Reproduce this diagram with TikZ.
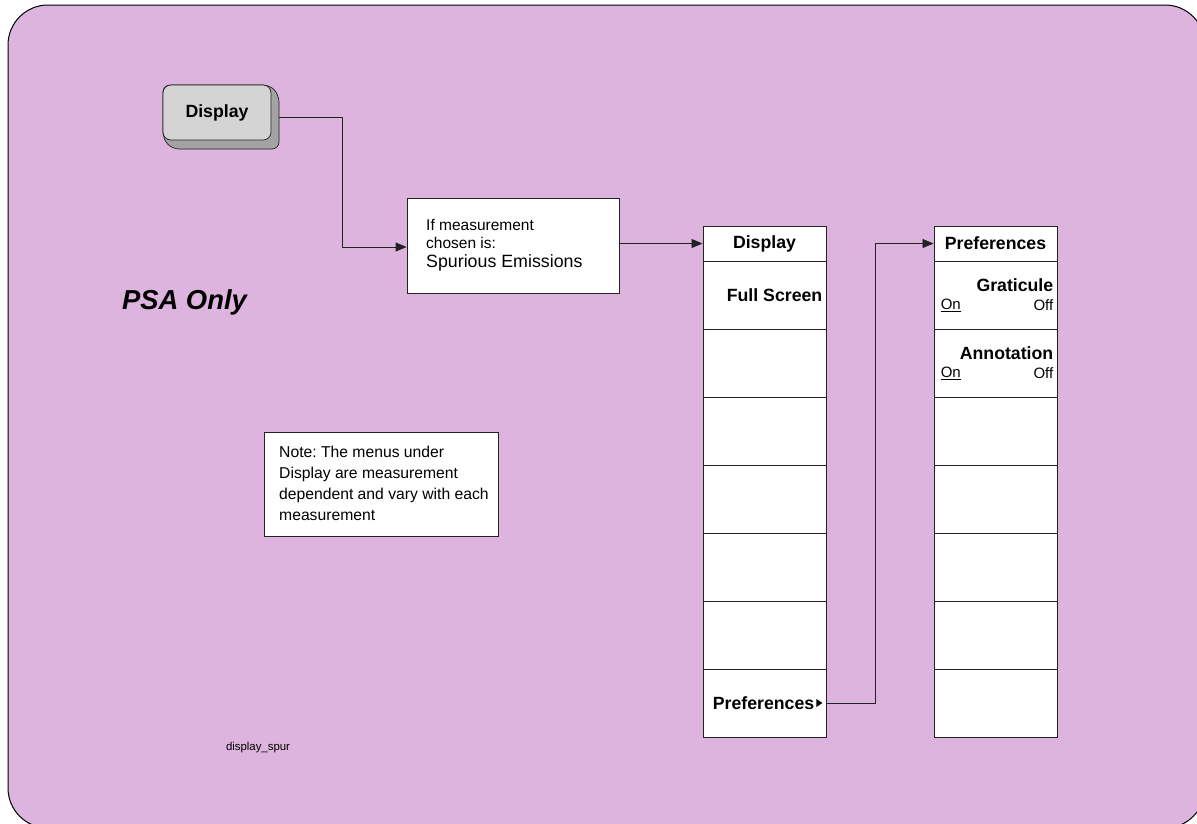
\documentclass[tikz,border=0pt]{standalone}
\usepackage{fontspec}
\setmainfont{Liberation Sans}
\usetikzlibrary{arrows.meta}
\definecolor{bgpink}{HTML}{DDB4DD}
\definecolor{keyface}{HTML}{D4D4D4}
\definecolor{keyside}{HTML}{A3A3A3}
\definecolor{ink}{HTML}{222222}
\frenchspacing

\begin{document}
\begin{tikzpicture}[x=1pt, y=-1pt,
  every node/.style={font=\fontsize{15.5}{18}\selectfont, inner sep=0pt},
  menubox/.style={draw=ink, fill=white, line width=0.9pt, minimum width=123pt, minimum height=68pt},
  titlebox/.style={menubox, minimum height=35pt, font=\bfseries\fontsize{17.7}{20}\selectfont},
  keylabel/.style={font=\bfseries\fontsize{17.7}{20}\selectfont},
  onoff/.style={font=\fontsize{15}{18}\selectfont},
  wire/.style={ink, line width=0.8pt},
  tip/.style={-{Triangle[length=11pt,width=9pt]}}]
  \useasboundingbox (0,0) rectangle (1197,823);
  \clip (0,0) rectangle (1197,823);
  \draw[fill=bgpink, line width=1pt, rounded corners=40] (8,5) rectangle (1205,828);

  % hard key with its 3D side
  \filldraw[fill=keyside, draw=ink, line width=0.7pt, rounded corners=7]
    (163,85) -- (270,85) -- (279,95) -- (279,149) -- (172,149) -- (163,139) -- cycle;
  \node[draw=ink, fill=keyface, line width=0.7pt, rounded corners=8, minimum width=108pt,
    minimum height=55pt, keylabel] (key) at (217,112.5) {Display};
  \coordinate (keyout) at (279,117);
  \coordinate (elbow) at (342,247);

  % condition box
  \node[draw=ink, fill=white, line width=0.8pt, minimum width=212pt, minimum height=95pt]
    (ifbox) at (513,245.5) {};
  \node[anchor=west] (ifa) at (426,225) {If measurement};
  \node[anchor=west] (ifb) at (426,243) {chosen is:};
  \node[anchor=west, font=\fontsize{17.8}{20}\selectfont] (ifc) at (426,263) {Spurious Emissions};

  \node[font=\bfseries\itshape\fontsize{27.4}{30}\selectfont] (psa) at (184.5,302) {PSA Only};

  % note
  \node[draw=ink, fill=white, line width=0.8pt, minimum width=234pt, minimum height=104pt]
    (note) at (381,484.5) {};
  \node[anchor=north west, align=left, font=\fontsize{15.7}{21}\selectfont] (notetxt) at (279,446)
    {Note: The menus under\\Display are measurement\\dependent and vary with each\\measurement};

  \node[font=\fontsize{11.4}{13}\selectfont] (fname) at (258,748) {display\_spur};

  % Display menu
  \node[titlebox] (dtitle) at (764.5,243.5) {Display};
  \foreach \i in {0,...,6}
    \node[menubox] (d\i) at (764.5,295+68*\i) {};
  \node[keylabel, anchor=east] at ([xshift=-4pt]d0.east) {Full Screen};
  \node[keylabel, anchor=east] (dpref) at ([xshift=-12pt]d6.east) {Preferences};
  \fill[black] ([xshift=2pt,yshift=-4pt]dpref.east) -- ([xshift=2pt,yshift=4pt]dpref.east)
    -- ([xshift=8pt]dpref.east) -- cycle;

  % Preferences menu
  \node[titlebox] (ptitle) at (995.5,243.5) {Preferences};
  \foreach \i in {0,...,6}
    \node[menubox] (p\i) at (995.5,295+68*\i) {};
  \node[keylabel, anchor=east] at ([xshift=-4pt,yshift=10pt]p0.east) {Graticule};
  \node[onoff, anchor=west] at ([xshift=7pt,yshift=-10pt]p0.west) {\underline{On}};
  \node[onoff, anchor=east] at ([xshift=-4pt,yshift=-10pt]p0.east) {Off};
  \node[keylabel, anchor=east] at ([xshift=-4pt,yshift=10pt]p1.east) {Annotation};
  \node[onoff, anchor=west] at ([xshift=7pt,yshift=-10pt]p1.west) {\underline{On}};
  \node[onoff, anchor=east] at ([xshift=-4pt,yshift=-10pt]p1.east) {Off};

  % connectors
  \draw[wire, tip] (keyout) -| (elbow) -- (elbow -| ifbox.west);
  \draw[wire, tip] (ifbox.east |- dtitle.west) -- (dtitle.west);
  \draw[wire, tip] (d6.east) -- ++(49,0) |- (ptitle.west);
\end{tikzpicture}
\end{document}
